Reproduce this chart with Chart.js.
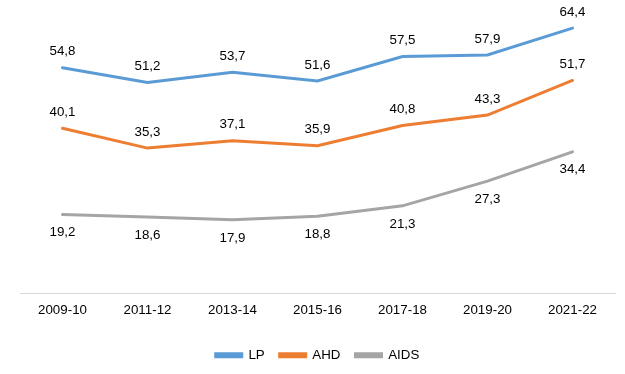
<!DOCTYPE html>
<html>
<head>
<meta charset="utf-8">
<script src="https://cdn.jsdelivr.net/npm/chart.js@4"></script>
<style>
  html, body { margin: 0; padding: 0; background: #fff; }
  #wrap { width: 625px; height: 374px; }
</style>
</head>
<body>
<div id="wrap"><canvas id="chart" width="625" height="374"></canvas></div>
<script>
const years = ['2009-10', '2011-12', '2013-14', '2015-16', '2017-18', '2019-20', '2021-22'];
const lp = [54.8, 51.2, 53.7, 51.6, 57.5, 57.9, 64.4];
const ahd = [40.1, 35.3, 37.1, 35.9, 40.8, 43.3, 51.7];
const aids = [19.2, 18.6, 17.9, 18.8, 21.3, 27.3, 34.4];

const FONT = '"Liberation Sans", Arial, sans-serif';

// value labels, above or below each point
const valueLabels = {
    id: 'valueLabels',
    afterDatasetsDraw(chart) {
        const ctx = chart.ctx;
        ctx.save();
        ctx.font = '13.33px ' + FONT;
        ctx.fillStyle = '#000';
        ctx.textAlign = 'center';
        ctx.textBaseline = 'middle';
        chart.data.datasets.forEach((ds, i) => {
            const meta = chart.getDatasetMeta(i);
            const dy = ds.labelBelow ? 18 : -16;
            meta.data.forEach((pt, j) => {
                const txt = ds.data[j].toFixed(1).replace('.', ',');
                ctx.fillText(txt, pt.x, pt.y + dy);
            });
        });
        ctx.restore();
    }
};

new Chart(document.getElementById('chart'), {
    type: 'line',
    data: {
        labels: years,
        datasets: [
            { label: 'LP', data: lp, borderColor: '#5B9BD5', backgroundColor: '#5B9BD5' },
            { label: 'AHD', data: ahd, borderColor: '#ED7D31', backgroundColor: '#ED7D31' },
            { label: 'AIDS', data: aids, borderColor: '#A5A5A5', backgroundColor: '#A5A5A5', labelBelow: true }
        ]
    },
    options: {
        responsive: false,
        animation: false,
        layout: { padding: { left: 20, right: 10, top: 5, bottom: 2 } },
        elements: {
            line: { borderWidth: 3, tension: 0, borderCapStyle: 'round' },
            point: { radius: 0, hoverRadius: 0 }
        },
        scales: {
            x: {
                offset: true,
                grid: { display: false, drawTicks: false },
                border: { display: true, color: '#D9D9D9', width: 1 },
                ticks: {
                    color: '#000',
                    padding: 9,
                    font: { family: FONT, size: 13.33 }
                },
                afterFit(scale) { scale.height += 6; }
            },
            y: {
                display: false,
                min: 0,
                max: 70
            }
        },
        plugins: {
            legend: {
                position: 'bottom',
                labels: {
                    boxWidth: 26,
                    boxHeight: 3,
                    padding: 15,
                    color: '#000',
                    font: { family: FONT, size: 13.33 }
                }
            },
            tooltip: { enabled: false }
        }
    },
    plugins: [valueLabels]
});
</script>
</body>
</html>
